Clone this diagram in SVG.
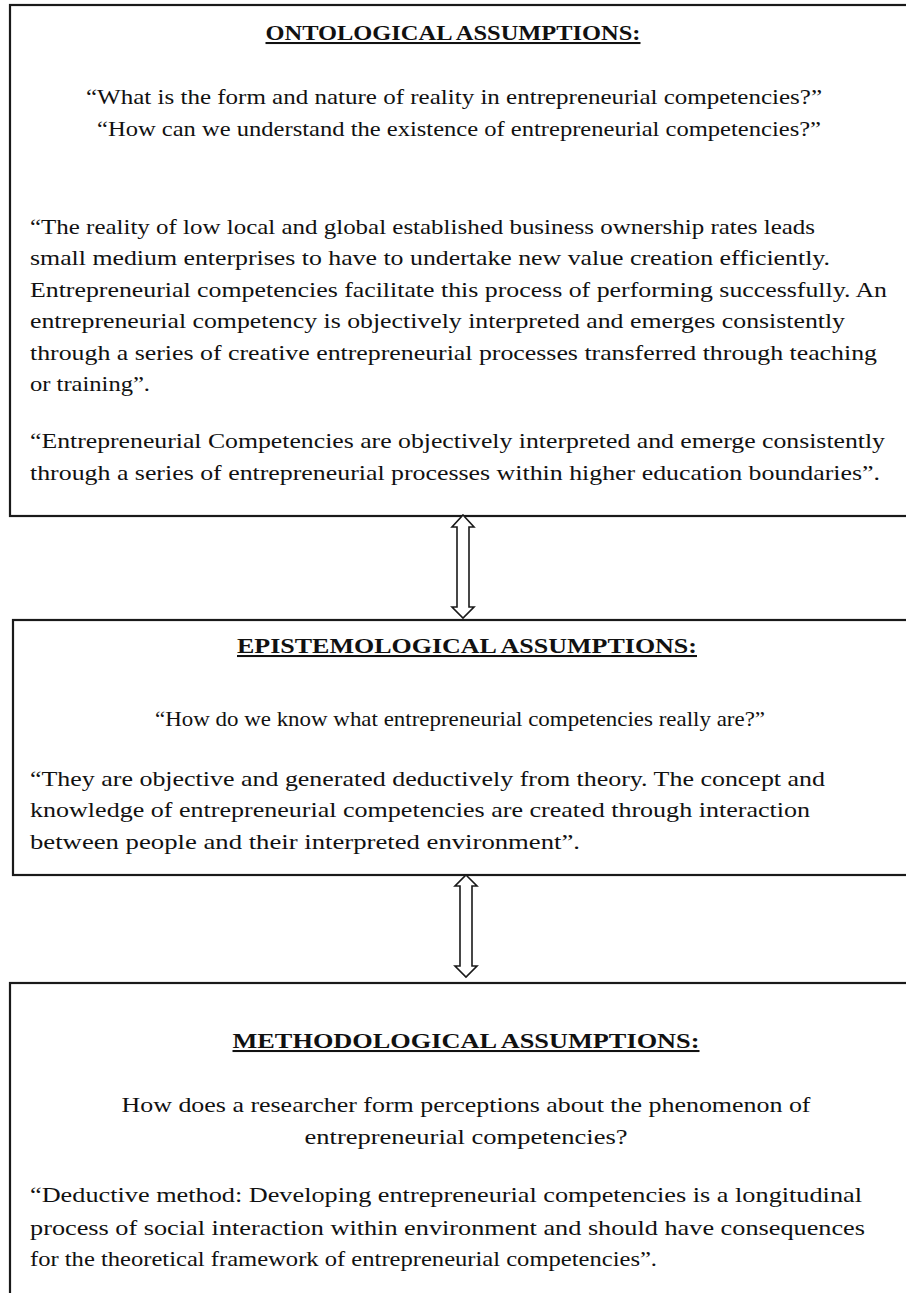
<svg xmlns="http://www.w3.org/2000/svg" width="906" height="1293" viewBox="0 0 906 1293">
  <style>
    .box { fill: #ffffff; stroke: #1a1a1a; stroke-width: 2.2; }
    .arrow { fill: #ffffff; stroke: #1a1a1a; stroke-width: 1.6; stroke-linejoin: miter; }
    text { font-family: "Liberation Serif", "Times New Roman", serif; font-size: 22px; fill: #111111; }
    .title { font-size: 20.5px; font-weight: bold; text-decoration: underline; text-anchor: middle; }
    .c { text-anchor: middle; }
  </style>
  <rect x="0" y="0" width="906" height="1293" fill="#ffffff"/>

  <g id="ontological">
    <rect class="box" x="10" y="5" width="920" height="511"/>
    <text class="title" x="453" y="40" textLength="375" lengthAdjust="spacingAndGlyphs">ONTOLOGICAL ASSUMPTIONS:</text>
    <text class="c" x="454" y="104" textLength="736" lengthAdjust="spacingAndGlyphs">“What is the form and nature of reality in entrepreneurial competencies?”</text>
    <text class="c" x="459" y="136" textLength="724" lengthAdjust="spacingAndGlyphs">“How can we understand the existence of entrepreneurial competencies?”</text>
    <text x="30" y="234" textLength="785" lengthAdjust="spacingAndGlyphs">“The reality of low local and global established business ownership rates leads</text>
    <text x="30" y="265" textLength="800" lengthAdjust="spacingAndGlyphs">small medium enterprises to have to undertake new value creation efficiently.</text>
    <text x="30" y="297" textLength="857" lengthAdjust="spacingAndGlyphs">Entrepreneurial competencies facilitate this process of performing successfully. An</text>
    <text x="30" y="328" textLength="815" lengthAdjust="spacingAndGlyphs">entrepreneurial competency is objectively interpreted and emerges consistently</text>
    <text x="30" y="360" textLength="847" lengthAdjust="spacingAndGlyphs">through a series of creative entrepreneurial processes transferred through teaching</text>
    <text x="30" y="391" textLength="120" lengthAdjust="spacingAndGlyphs">or training”.</text>
    <text x="30" y="448" textLength="855" lengthAdjust="spacingAndGlyphs">“Entrepreneurial Competencies are objectively interpreted and emerge consistently</text>
    <text x="30" y="480" textLength="850" lengthAdjust="spacingAndGlyphs">through a series of entrepreneurial processes within higher education boundaries”.</text>
  </g>

  <g id="epistemological">
    <rect class="box" x="13" y="620" width="920" height="255"/>
    <text class="title" x="467" y="653" textLength="460" lengthAdjust="spacingAndGlyphs">EPISTEMOLOGICAL ASSUMPTIONS:</text>
    <text class="c" x="460" y="726" textLength="610" lengthAdjust="spacingAndGlyphs">“How do we know what entrepreneurial competencies really are?”</text>
    <text x="30" y="786" textLength="795" lengthAdjust="spacingAndGlyphs">“They are objective and generated deductively from theory. The concept and</text>
    <text x="30" y="817" textLength="780" lengthAdjust="spacingAndGlyphs">knowledge of entrepreneurial competencies are created through interaction</text>
    <text x="30" y="849" textLength="550" lengthAdjust="spacingAndGlyphs">between people and their interpreted environment”.</text>
  </g>

  <g id="methodological">
    <rect class="box" x="10" y="983" width="920" height="330"/>
    <text class="title" x="466" y="1048" textLength="467" lengthAdjust="spacingAndGlyphs">METHODOLOGICAL ASSUMPTIONS:</text>
    <text class="c" x="466" y="1112" textLength="689" lengthAdjust="spacingAndGlyphs">How does a researcher form perceptions about the phenomenon of</text>
    <text class="c" x="466" y="1144" textLength="323" lengthAdjust="spacingAndGlyphs">entrepreneurial competencies?</text>
    <text x="30" y="1202" textLength="832" lengthAdjust="spacingAndGlyphs">“Deductive method: Developing entrepreneurial competencies is a longitudinal</text>
    <text x="30" y="1235" textLength="835" lengthAdjust="spacingAndGlyphs">process of social interaction within environment and should have consequences</text>
    <text x="30" y="1266" textLength="627" lengthAdjust="spacingAndGlyphs">for the theoretical framework of entrepreneurial competencies”.</text>
  </g>

  <g id="connectors">
    <polygon class="arrow" points="463,515 474,527 469,527 469,607 474,607 463,618 452,607 457,607 457,527 452,527"/>
    <polygon class="arrow" points="466,875 477,886 472,886 472,966 477,966 466,977 455,966 460,966 460,886 455,886"/>
  </g>
</svg>
